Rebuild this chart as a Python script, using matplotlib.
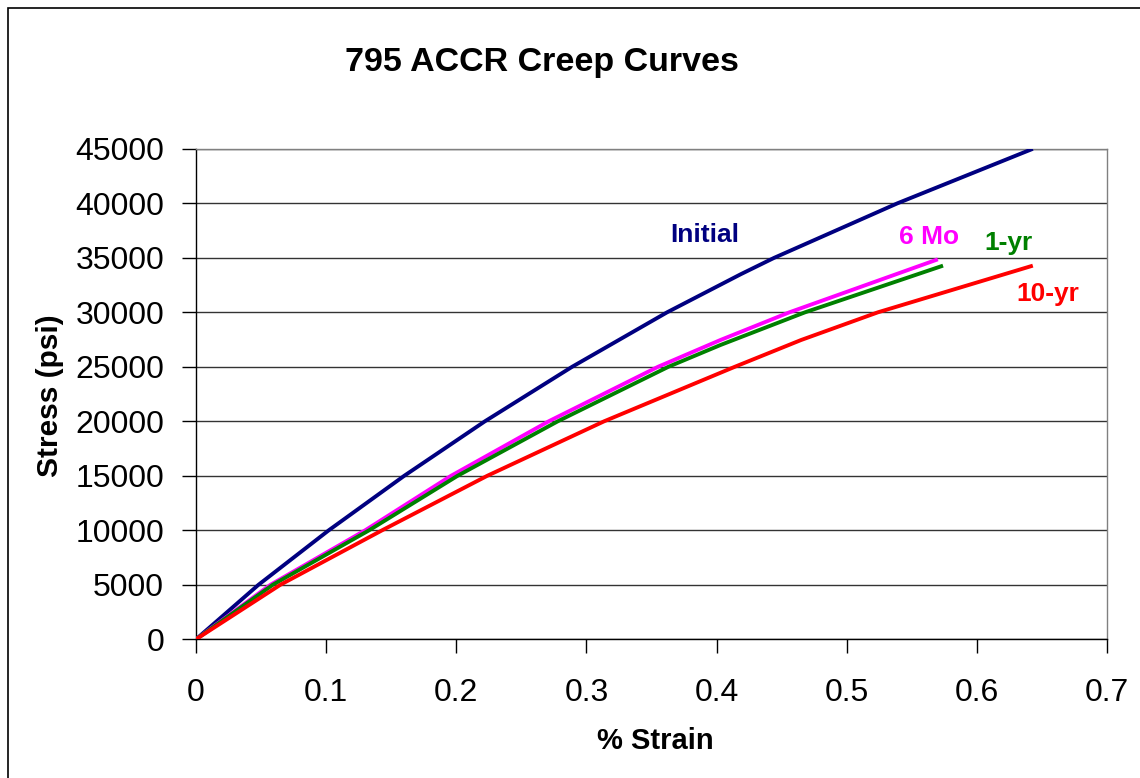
import matplotlib
matplotlib.use("Agg")
import matplotlib.pyplot as plt
from matplotlib.patches import Rectangle

plt.rcParams['font.family'] = ['Liberation Sans', 'DejaVu Sans']

# Data
initial_strain = [0, 0.048, 0.102, 0.160, 0.222, 0.289, 0.362, 0.4187, 0.4443, 0.539, 0.643]
initial_stress = [0, 5000, 10000, 15000, 20000, 25000, 30000, 33500, 35000, 40000, 45000]

mo6_strain = [0, 0.0572, 0.130, 0.196, 0.271, 0.355, 0.403, 0.456, 0.570]
mo6_stress = [0, 5000, 10000, 15000, 20000, 25000, 27460, 30000, 34860]

yr1_strain = [0, 0.059, 0.133, 0.201, 0.278, 0.363, 0.403, 0.468, 0.574]
yr1_stress = [0, 5000, 10000, 15000, 20000, 25000, 27000, 30000, 34280]

yr10_strain = [0, 0.0648, 0.143, 0.2238, 0.3136, 0.414, 0.465, 0.524, 0.643]
yr10_stress = [0, 5000, 10000, 15000, 20000, 25000, 27460, 30000, 34280]

series_names = ["Initial", "6 Mo", "1-yr", "10-yr"]
series_colors = ["#000080", "#FF00FF", "#008000", "#FF0000"]
x_ticks = [0, 0.1, 0.2, 0.3, 0.4, 0.5, 0.6, 0.7]
y_ticks = [0, 5000, 10000, 15000, 20000, 25000, 30000, 35000, 40000, 45000]

W, H = 1140, 778
fig = plt.figure(figsize=(W / 100, H / 100), dpi=100)
fig.patch.set_facecolor('white')

# Outer chart border (left and top visible)
fig.patches.append(Rectangle((8 / W, -0.1), 1.2, 1 - 8 / H + 0.1, transform=fig.transFigure,
                             fill=False, edgecolor='black', linewidth=1.2))

ax = fig.add_axes([196 / W, 1 - 639.3 / H, 911 / W, 490.5 / H])

data = [(initial_strain, initial_stress), (mo6_strain, mo6_stress),
        (yr1_strain, yr1_stress), (yr10_strain, yr10_stress)]
for (xs, ys), c in zip(data, series_colors):
    ax.plot(xs, ys, color=c, linewidth=2.8, solid_capstyle='butt',
            solid_joinstyle='round', zorder=3)

ax.set_xlim(0, 0.7)
ax.set_ylim(0, 45000)
ax.set_xticks(x_ticks)
ax.set_xticklabels([("%g" % t) for t in x_ticks])
ax.set_yticks(y_ticks)
ax.set_yticklabels([str(t) for t in y_ticks])
ax.tick_params(axis='x', direction='out', length=10, width=1, labelsize=23, pad=18)
ax.tick_params(axis='y', direction='out', length=10, width=1, labelsize=23, pad=13)
ax.yaxis.grid(True, color='#333333', linewidth=1.0)
ax.set_axisbelow(True)
for s in ['top', 'right']:
    ax.spines[s].set_color('#808080')
    ax.spines[s].set_linewidth(1.0)
for s in ['left', 'bottom']:
    ax.spines[s].set_color('black')
    ax.spines[s].set_linewidth(1.0)

# Series labels
label_pos = [(0.391, 37090), (0.563, 36910), (0.6246, 36360), (0.6546, 31680)]
for name, c, (lx, ly) in zip(series_names, series_colors, label_pos):
    ax.text(lx, ly, name, color=c, fontsize=19, fontweight='bold', ha='center', va='center')

fig.text(542 / W, 1 - 62 / H, "795 ACCR Creep Curves", fontsize=24.5, fontweight='bold',
         ha='center', va='center')
fig.text(655 / W, 1 - 741 / H, "% Strain", fontsize=21, fontweight='bold', ha='center', va='center')
fig.text(50 / W, 1 - 396 / H, "Stress (psi)", fontsize=21.5, fontweight='bold', ha='center',
         va='center', rotation=90)

fig.savefig("out.png", dpi=100)
